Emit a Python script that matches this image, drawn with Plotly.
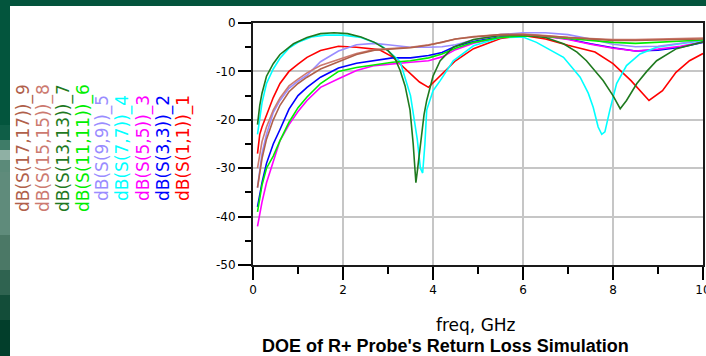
import plotly.graph_objects as go

# ---------------- data ----------------
freq_common = [0.1, 0.2, 0.3, 0.45, 0.6, 0.8, 1.0, 1.2, 1.5, 1.9, 2.3, 2.7, 3.1, 3.5,
               3.9, 4.2, 4.5, 4.9, 5.5, 6.0, 6.5, 7.0, 7.5, 8.0, 8.5, 9.0, 9.5, 10.0]

freq_1 = [0.1, 0.15, 0.2, 0.3, 0.45, 0.6, 0.8, 1.0, 1.2, 1.5, 1.9, 2.3, 2.8, 3.1, 3.4, 3.7,
          3.9, 4.15, 4.5, 4.9, 5.5, 6.0, 6.5, 7.0, 7.6, 8.0, 8.4, 8.8, 9.1, 9.4, 9.7, 10.0]
db_s11 = [-27, -23, -21.5, -19, -15.4, -12.5, -10, -8.5, -7.1, -5.7, -4.8, -5, -5.5, -7, -9.6, -12.2,
          -13.3, -11, -7.8, -5.3, -3.2, -2.6, -3.3, -4.6, -6, -8.4, -11.9, -16, -14, -10.2, -7.8, -6.3]

db_s33 = [-38, -33, -29, -25, -22, -17.8, -15, -13.3, -11.2, -9.3, -8.3, -7.8, -7.2, -7.2,
          -6.7, -6.1, -4.8, -3.8, -2.9, -2.5, -2.7, -3.3, -4.3, -5.1, -5.8, -5.6, -5.0, -4.0]

db_s55 = [-42, -37, -33, -28.5, -24.3, -21, -18.3, -16, -13.3, -11.5, -9.8, -8.8, -8.4, -8.1,
          -7.8, -7.0, -5.5, -4.2, -3, -2.6, -2.8, -3.4, -4.4, -5.2, -5.8, -5.4, -4.8, -3.9]

freq_4 = [0.1, 0.2, 0.3, 0.45, 0.6, 0.8, 1.0, 1.3, 1.6, 2.0, 2.4, 2.8, 3.0, 3.27, 3.5, 3.65,
          3.72, 3.77, 3.82, 3.86, 4.0, 4.16, 4.45, 4.9, 5.5, 6.0, 6.3, 6.6, 6.9, 7.27, 7.45,
          7.56, 7.67, 7.75, 7.82, 7.93, 8.08, 8.3, 8.6, 8.97, 9.5, 10.0]
db_s77 = [-23, -16.5, -12.5, -9.5, -7.3, -5.2, -4, -2.9, -2.5, -2.5, -3, -4.4, -5.7, -8, -15, -24,
          -30, -31, -25, -18, -14, -11.9, -7.8, -4.7, -3, -2.9, -4, -5.5, -7.1, -11.2, -14.5,
          -17.4, -21.5, -23, -22.5, -18, -12.5, -8.8, -6.4, -5, -4.3, -3.6]

db_s99 = [-34, -27, -23, -18.5, -16, -13.5, -12, -10.8, -8, -5.8, -4.5, -4.2, -4.6, -5,
          -5, -4.9, -4.5, -3.5, -2.4, -2, -2, -2.4, -3.3, -4.4, -4.9, -4.8, -4.2, -3.5]

db_s1111 = [-39, -33.5, -30, -27.5, -24.3, -20.5, -17.5, -15.3, -12.5, -10, -9.2, -8.6, -8.1, -7.8,
            -7.2, -6.4, -5.2, -4, -3, -2.7, -2.8, -3.2, -3.6, -4, -4.2, -4.0, -3.7, -3.5]

freq_7 = [0.1, 0.15, 0.2, 0.3, 0.45, 0.6, 0.9, 1.2, 1.5, 1.8, 2.1, 2.4, 2.7, 3.0, 3.15, 3.27,
          3.38, 3.49, 3.56, 3.62, 3.66, 3.72, 3.8, 3.86, 4.0, 4.16, 4.45, 4.9, 5.5, 6.0, 6.5,
          6.9, 7.2, 7.41, 7.6, 7.78, 8.0, 8.16, 8.3, 8.53, 8.75, 8.97, 9.41, 10.0]
db_s1313 = [-21, -17, -14.5, -11, -8.4, -6.5, -4.3, -3, -2.2, -2.0, -2.2, -2.9, -4, -5.7, -7.2,
            -9.8, -13, -18, -25, -33, -30, -25, -19, -16, -11, -7.8, -5, -3.4, -2.6, -2.5, -3,
            -4.3, -6, -7.8, -9.8, -11.9, -15, -17.7, -16, -12.5, -10, -7.8, -5.3, -3.9]

db_s1515 = [-30, -24.5, -21.5, -18, -15.5, -13, -11.6, -10.3, -8.8, -7.5, -6.3, -5.5, -5.2, -5,
            -4.5, -4, -3.3, -2.8, -2.4, -2.3, -2.6, -3, -3.2, -3.4, -3.4, -3.3, -3.2, -3.1]

db_s1717 = [-34, -28, -24, -20, -17, -14.2, -12.5, -11.2, -9.5, -8, -6.5, -5.6, -5.3, -5.1,
            -4.6, -4, -3.3, -2.9, -2.4, -2.4, -2.7, -3.1, -3.4, -3.6, -3.6, -3.5, -3.4, -3.3]

series_names = ["dB(S(1,1))_1", "dB(S(3,3))_2", "dB(S(5,5))_3", "dB(S(7,7))_4",
                "dB(S(9,9))_5", "dB(S(11,11))_6", "dB(S(13,13))_7", "dB(S(15,15))_8",
                "dB(S(17,17))_9"]
series_x = [freq_1, freq_common, freq_common, freq_4, freq_common, freq_common,
            freq_7, freq_common, freq_common]
series_y = [db_s11, db_s33, db_s55, db_s77, db_s99, db_s1111, db_s1313, db_s1515, db_s1717]
series_colors = ["#ff0000", "#0000ff", "#ff00ff", "#00ffff", "#9a8cff", "#00ee00",
                 "#1f7a1f", "#cc7a70", "#b0604a"]

x_tick_vals = [0, 2, 4, 6, 8, 10]
x_tick_text = ["0", "2", "4", "6", "8", "10"]
y_tick_vals = [0, -10, -20, -30, -40, -50]
y_tick_text = ["0", "-10", "-20", "-30", "-40", "-50"]

# ---------------- layout geometry ----------------
W, H = 706, 356
L, R, T, B = 253, 3, 23, 91
PW, PH = W - L - R, H - T - B


def px_x(px):
    return (px - L) / PW


def px_y(py):
    return (H - B - py) / PH


fig = go.Figure()
for name, xs, ys, col in zip(series_names, series_x, series_y, series_colors):
    fig.add_trace(go.Scatter(x=xs, y=ys, mode="lines", name=name,
                             line=dict(color=col, width=1.6), showlegend=False))

# rotated y-axis labels (ADS style), one column per trace
label_cols_px = [183, 163, 143, 122, 102, 83, 63, 43, 23]
annotations = []
for name, col, cx in zip(series_names, series_colors, label_cols_px):
    annotations.append(dict(text=name, x=px_x(cx), y=px_y(148), xref="paper", yref="paper",
                            textangle=-90, showarrow=False, xanchor="center", yanchor="middle",
                            font=dict(family="DejaVu Sans", size=17, color=col)))
annotations.append(dict(text="freq, GHz", x=px_x(476), y=px_y(325), xref="paper", yref="paper",
                        showarrow=False, xanchor="center", yanchor="middle",
                        font=dict(family="DejaVu Sans", size=17, color="black")))
annotations.append(dict(text="<b>DOE of R+ Probe's Return Loss Simulation</b>",
                        x=px_x(445), y=px_y(346), xref="paper", yref="paper",
                        showarrow=False, xanchor="center", yanchor="middle",
                        font=dict(family="Liberation Sans", size=18, color="black")))

# dark green frame (top band and left band with a light glow)
shapes = [dict(type="rect", xref="paper", yref="paper", x0=px_x(0), x1=px_x(W),
               y0=px_y(6), y1=px_y(0), fillcolor="#03543c", line=dict(width=0), layer="below")]
left_bands = [(0, 125, "#03553d"), (125, 140, "#0f5e47"), (140, 150, "#3f7c68"),
              (150, 160, "#8fb0a4"), (160, 172, "#5b8a79"), (172, 235, "#5f8b7b"),
              (235, 270, "#4b7866"), (270, 295, "#2f6350"), (295, 320, "#134d39"),
              (320, 356, "#023e2b")]
for y0, y1, c in left_bands:
    shapes.append(dict(type="rect", xref="paper", yref="paper", x0=px_x(0), x1=px_x(10),
                       y0=px_y(y1), y1=px_y(y0), fillcolor=c, line=dict(width=0), layer="below"))

fig.update_layout(
    template="none",
    width=W, height=H,
    margin=dict(l=L, r=R, t=T, b=B, pad=0),
    paper_bgcolor="white", plot_bgcolor="white",
    annotations=annotations, shapes=shapes,
    showlegend=False,
    xaxis=dict(range=[0, 10], tickvals=x_tick_vals, ticktext=x_tick_text,
               showgrid=True, gridcolor="#c6c6c6", gridwidth=1.5, zeroline=False,
               showline=True, linecolor="#1a1a1a", linewidth=2, mirror=True,
               ticks="outside", ticklen=13, tickwidth=1.5, tickcolor="black",
               minor=dict(dtick=1, ticks="outside", ticklen=7, tickwidth=1.5,
                          tickcolor="black", showgrid=False),
               tickfont=dict(family="DejaVu Sans", size=12, color="black"),
               ticklabeloverflow="allow",
               automargin=False, fixedrange=True),
    yaxis=dict(range=[-50, 0], tickvals=y_tick_vals, ticktext=y_tick_text,
               showgrid=True, gridcolor="#c6c6c6", gridwidth=1.5, zeroline=False,
               showline=True, linecolor="#1a1a1a", linewidth=2, mirror=True,
               ticks="outside", ticklen=13, tickwidth=1.5, tickcolor="black",
               minor=dict(dtick=5, ticks="outside", ticklen=6, tickwidth=1.5,
                          tickcolor="black", showgrid=False),
               tickfont=dict(family="DejaVu Sans", size=12, color="black"),
               ticklabeloverflow="allow",
               automargin=False, fixedrange=True),
)

fig.write_html("out.html")
